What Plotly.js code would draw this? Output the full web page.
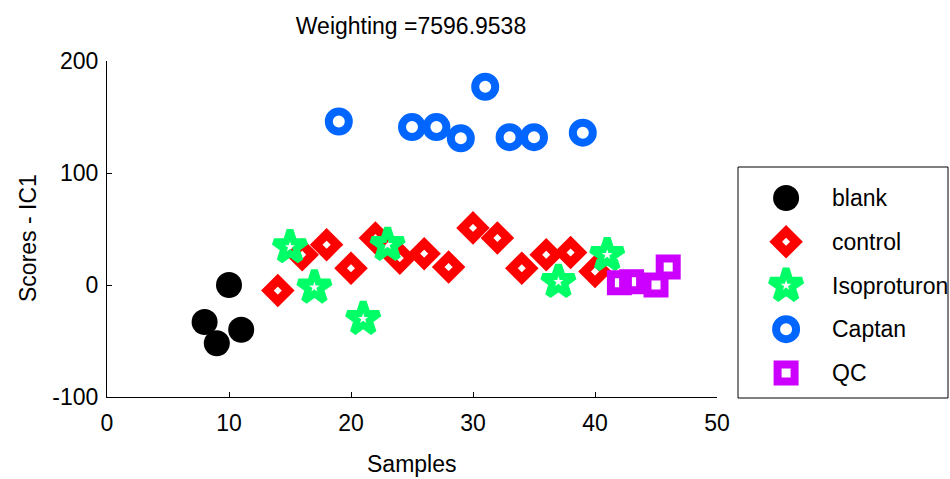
<!DOCTYPE html>
<html>
<head>
<meta charset="utf-8">
<script src="https://cdn.plot.ly/plotly-3.0.1.min.js"></script>
<style>
  html, body { margin: 0; padding: 0; background: #fff; }
  #chart { width: 950px; height: 479px; }
</style>
</head>
<body>
<div id="chart"></div>
<script>
// IC1 scores per sample, grouped by treatment
const groupNames = ['blank', 'control', 'Isoproturon', 'Captan', 'QC'];

const blankX = [8, 9, 10, 11];
const blankY = [-33, -52, 0, -40];

const controlX = [14, 16, 18, 20, 22, 24, 26, 28, 30, 32, 34, 36, 38, 40];
const controlY = [-5, 27, 36, 15, 42, 24, 28, 16, 51, 42, 15, 27, 29, 12];

const isoX = [15, 17, 21, 23, 37, 41];
const isoY = [34, -2, -30, 36, 3, 27];

const captanX = [19, 25, 27, 29, 31, 33, 35, 39];
const captanY = [146, 141, 141, 131, 177, 132, 132, 136];

const qcX = [42, 43, 45, 46];
const qcY = [2, 3, 0, 16];

const xTickVals = [0, 10, 20, 30, 40, 50];
const yTickVals = [-100, 0, 100, 200];
const yTickText = ['-100', '0', '100', '200'];

const titleText = 'Weighting =7596.9538';
const xTitle = 'Samples';
const yTitle = 'Scores - IC1';

const FONT = 'Liberation Sans, Arial, sans-serif';
const FS = 23;

// marker style per group
const styles = [
  { symbol: 'circle', color: '#000000', size: 26, lw: 0 },
  { symbol: 'diamond-open', color: '#ff0000', size: 16, lw: 9 },
  { symbol: 'star-open', color: '#00ff66', size: 24, lw: 7 },
  { symbol: 'circle-open', color: '#0066ff', size: 20, lw: 8 },
  { symbol: 'square-open', color: '#cc00ff', size: 17, lw: 8 }
];

const seriesX = [blankX, controlX, isoX, captanX, qcX];
const seriesY = [blankY, controlY, isoY, captanY, qcY];

function markerFor(s) {
  return { symbol: s.symbol, color: s.color, size: s.size, opacity: 1,
           line: { color: s.color, width: s.lw } };
}

const traces = [];
groupNames.forEach((name, i) => {
  traces.push({
    type: 'scatter', mode: 'markers', name: name,
    x: seriesX[i], y: seriesY[i],
    marker: markerFor(styles[i]),
    cliponaxis: false, showlegend: false,
    xaxis: 'x', yaxis: 'y'
  });
});

// key panel: one marker per group on its own small axes
groupNames.forEach((name, i) => {
  traces.push({
    type: 'scatter', mode: 'markers', name: name,
    x: [0.229], y: [i],
    marker: markerFor(styles[i]),
    cliponaxis: false, showlegend: false, hoverinfo: 'skip',
    xaxis: 'x2', yaxis: 'y2'
  });
});

const W = 950, H = 479;
const L = 107, T = 61, B = 82;
const plotW = W - L;           // right margin 0
const plotH = H - T - B;
const px = v => (v - L) / plotW;
const py = v => (H - B - v) / plotH;

const txt = { family: FONT, size: FS, color: '#000' };

const annotations = groupNames.map((name, i) => ({
  xref: 'x2', yref: 'y2', x: 0.438, y: i,
  text: name, showarrow: false, xanchor: 'left', yanchor: 'middle',
  font: txt
}));

// axis titles
annotations.push({
  xref: 'paper', yref: 'paper', x: px(411), y: py(464),
  text: xTitle, showarrow: false, xanchor: 'center', yanchor: 'middle', font: txt
});
annotations.push({
  xref: 'paper', yref: 'paper', x: px(28), y: py(238),
  text: yTitle, showarrow: false, textangle: -90,
  xanchor: 'center', yanchor: 'middle', font: txt
});

const layout = {
  width: W, height: H,
  margin: { l: L, r: 0, t: T, b: B, pad: 0 },
  paper_bgcolor: '#fff', plot_bgcolor: '#fff',
  font: txt,
  showlegend: false,
  title: {
    text: titleText, xref: 'container', yref: 'container',
    x: 411 / W, xanchor: 'center', y: 1 - 26 / H, yanchor: 'middle',
    font: txt
  },
  xaxis: {
    domain: [0, px(717)], range: [0, 50], tickvals: xTickVals,
    ticks: 'inside', ticklen: 5, tickcolor: '#000', tickwidth: 1,
    ticklabelstandoff: 5,
    showline: true, linecolor: '#000', linewidth: 1, mirror: false,
    showgrid: false, zeroline: false, tickfont: txt,
    anchor: 'y'
  },
  yaxis: {
    domain: [0, 1], range: [-100, 200], tickvals: yTickVals, ticktext: yTickText,
    ticks: 'inside', ticklen: 5, tickcolor: '#000', tickwidth: 1,
    ticklabelstandoff: 3,
    showline: true, linecolor: '#000', linewidth: 1, mirror: false,
    showgrid: false, zeroline: false, tickfont: txt,
    anchor: 'x'
  },
  xaxis2: {
    domain: [px(738), px(948)], range: [0, 1], anchor: 'y2',
    visible: false, fixedrange: true
  },
  yaxis2: {
    domain: [0, py(167)], range: [4.55, -0.71], anchor: 'x2',
    visible: false, fixedrange: true
  },
  shapes: [{
    type: 'rect', xref: 'paper', yref: 'paper', layer: 'below',
    x0: px(738), x1: px(948), y0: py(398), y1: py(167),
    line: { color: '#000', width: 1 }, fillcolor: 'rgba(0,0,0,0)'
  }],
  annotations: annotations
};

Plotly.newPlot('chart', traces, layout, { displayModeBar: false, staticPlot: true });
</script>
</body>
</html>
